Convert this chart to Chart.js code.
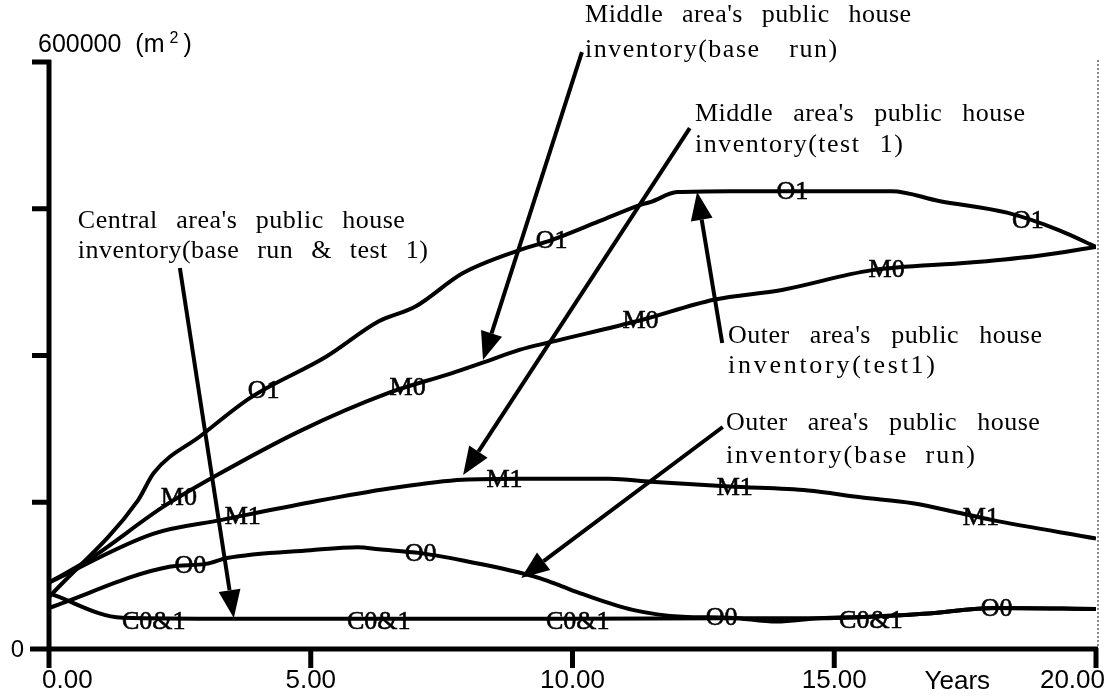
<!DOCTYPE html>
<html>
<head>
<meta charset="utf-8">
<script src="https://cdn.jsdelivr.net/npm/chart.js@4.4.0/dist/chart.umd.min.js"></script>
<style>
    html, body { margin: 0; padding: 0; background: #fff; }
    #wrap { width: 1115px; height: 698px; }
</style>
</head>
<body>
<div id="wrap"><canvas id="chart" width="1115" height="698"></canvas></div>
<script>
    'use strict';

    // outer area, test 1
    var o1Years = [0, 1.7, 2.0, 2.9, 3.85, 5.3, 6.3, 7.0, 7.9, 9.0, 9.6, 10.5, 11.3, 11.5, 12.0, 13.0, 14.0, 15.0, 16.1, 17.0, 18.3, 19.3, 20];
    var o1Values = [53000, 152000, 180000, 218000, 257000, 299000, 335000, 350000, 384000, 408000, 418000, 437000, 454000, 457000, 467000, 468000, 468000, 468000, 468000, 458000, 446000, 428000, 411000];

    // middle area, base run
    var m0Years = [0, 0.75, 2.2, 3.15, 4.8, 6.5, 7.7, 8.3, 9.0, 9.6, 11.3, 12.7, 14.0, 15.7, 17.6, 18.9, 20];
    var m0Values = [68000, 91000, 146000, 176000, 223000, 262000, 282000, 293000, 306000, 314000, 336000, 357000, 367000, 387000, 395000, 402000, 411000];

    // middle area, test 1
    var m1Years = [0, 2.0, 3.3, 5.0, 6.5, 7.9, 9.0, 10.7, 11.5, 13.0, 14.5, 15.5, 16.5, 17.4, 18.0, 20];
    var m1Values = [68000, 118000, 132000, 150000, 164000, 173000, 174000, 174000, 171000, 166000, 162000, 155000, 149000, 139000, 132000, 113000];

    // outer area, base run
    var o0Years = [0, 2.3, 3.0, 3.4, 5.0, 5.9, 6.3, 7.1, 7.95, 9.0, 9.4, 9.8, 10.2, 11.15, 12.1, 13.0, 13.9, 14.7, 15.7, 16.7, 18.1, 20];
    var o0Values = [42000, 84000, 87000, 93000, 101000, 104000, 102000, 98000, 90000, 78000, 72000, 64000, 56000, 40000, 33000, 32000, 28000, 31500, 33000, 36000, 42000, 41000];

    // central area, base run & test 1
    var cYears = [0, 1.4, 3.5, 10.0, 13.0, 14.7, 15.7, 16.7, 18.1, 20];
    var cValues = [57000, 32000, 31000, 31000, 31500, 31500, 33000, 36000, 42000, 41000];

    var xTickValues = [0, 5, 10, 15, 20];
    var xTickLabels = ['0.00', '5.00', '10.00', '15.00', '20.00'];
    var yTickValues = [0, 150000, 300000, 450000, 600000];

    var seriesNames = ['O1', 'M0', 'M1', 'O0', 'C0&1'];
    var seriesYears = [o1Years, m0Years, m1Years, o0Years, cYears];
    var seriesValues = [o1Values, m0Values, m1Values, o0Values, cValues];
    var labelYears = [
        [4.1, 9.6, 14.2, 18.7],
        [2.48, 6.85, 11.3, 16.0],
        [3.7, 8.7, 13.1, 17.8],
        [2.7, 7.1, 12.85, 18.1],
        [2.0, 6.3, 10.1, 15.7]
    ];

    // call-out texts and their arrows, anchored in data units
    var notes = [
        { lines: ["Middle area's public house", "inventory(base  run)"], year: 10.24, value: 640900, widths: [326, 252], ls: [0.5, 1.5], gap: 35 },
        { lines: ["Middle area's public house", "inventory(test  1)"], year: 12.34, value: 539700, widths: [330, 208], ls: [0.5, 1.5], gap: 31 },
        { lines: ["Central area's public house", "inventory(base run & test 1)"], year: 0.55, value: 430300, widths: [327, 350], ls: [0.5, 0.5], gap: 30 },
        { lines: ["Outer area's public house", "inventory(test1)"], year: 12.97, value: 312800, widths: [314, 207], ls: [0.5, 0], gap: 30 },
        { lines: ["Outer area's public house", "inventory(base  run)"], year: 12.93, value: 223800, widths: [314, 249], ls: [0.5, 2], gap: 33 }
    ];
    var arrows = [
        { from: [10.18, 610200], to: [8.29, 295400] },
        { from: [12.24, 532500], to: [7.91, 177800] },
        { from: [2.50, 389400], to: [3.53, 31700] },
        { from: [12.86, 312800], to: [12.38, 467100] },
        { from: [12.87, 226900], to: [9.02, 72600] }
    ];

    var SERIF = '"Liberation Serif", "Times New Roman", serif';
    var SANS = '"Liberation Sans", Arial, sans-serif';

    function pointsOf(years, values) {
        return years.map(function(y, i) {
            return { x: y, y: values[i] };
        });
    }

    function valueAt(years, values, yr) {
        for (var i = 1; i < years.length; i++) {
            if (yr <= years[i]) {
                var t = (yr - years[i - 1]) / (years[i] - years[i - 1]);
                return values[i - 1] + t * (values[i] - values[i - 1]);
            }
        }
        return values[values.length - 1];
    }

    function wordWidth(ctx, word, ls) {
        var w = 0;
        for (var i = 0; i < word.length; i++) {
            w += ctx.measureText(word[i]).width;
        }
        return w + ls * (word.length - 1);
    }

    function drawWord(ctx, word, x, y, ls) {
        for (var i = 0; i < word.length; i++) {
            ctx.fillText(word[i], x, y);
            x += ctx.measureText(word[i]).width + ls;
        }
    }

    // spread a line over a given width: letters get ls, word gaps take the rest
    function drawSpread(ctx, text, x, y, width, ls) {
        var words = text.split(/\s+/);
        if (words.length === 1) {
            var plain = wordWidth(ctx, text, 0);
            drawWord(ctx, text, x, y, (width - plain) / (text.length - 1));
            return;
        }
        var total = 0;
        words.forEach(function(w) { total += wordWidth(ctx, w, ls); });
        var gap = (width - total) / (words.length - 1);
        var cx = x;
        words.forEach(function(w) {
            drawWord(ctx, w, cx, y, ls);
            cx += wordWidth(ctx, w, ls) + gap;
        });
    }

    function drawArrow(ctx, x1, y1, x2, y2) {
        var ang = Math.atan2(y2 - y1, x2 - x1);
        var len = 28, half = 11;
        var bx = x2 - Math.cos(ang) * len, by = y2 - Math.sin(ang) * len;
        ctx.beginPath();
        ctx.moveTo(x1, y1);
        ctx.lineTo(bx, by);
        ctx.lineWidth = 4;
        ctx.stroke();
        ctx.beginPath();
        ctx.moveTo(x2, y2);
        ctx.lineTo(bx - Math.sin(ang) * half, by + Math.cos(ang) * half);
        ctx.lineTo(bx + Math.sin(ang) * half, by - Math.cos(ang) * half);
        ctx.closePath();
        ctx.fill();
    }

    var framePlugin = {
        id: 'frame',
        afterDatasetsDraw: function(chart) {
            var ctx = chart.ctx;
            var sx = chart.scales.x, sy = chart.scales.y;
            var x0 = sx.getPixelForValue(0), xEnd = sx.getPixelForValue(20);
            var y0 = sy.getPixelForValue(0), yTop = sy.getPixelForValue(600000);

            ctx.save();
            ctx.fillStyle = '#000';
            ctx.strokeStyle = '#000';

            // dotted right border
            ctx.save();
            ctx.strokeStyle = '#8a8a8a';
            ctx.lineWidth = 2;
            ctx.setLineDash([2, 2]);
            ctx.beginPath();
            ctx.moveTo(xEnd + 2, yTop - 2);
            ctx.lineTo(xEnd + 2, y0);
            ctx.stroke();
            ctx.restore();

            // axes
            ctx.lineWidth = 5;
            ctx.lineCap = 'butt';
            ctx.beginPath();
            ctx.moveTo(x0, yTop - 2);
            ctx.lineTo(x0, y0 + 2);
            yTickValues.forEach(function(v) {
                var py = sy.getPixelForValue(v);
                ctx.moveTo(x0 - 17, py);
                ctx.lineTo(x0 + 2, py);
            });
            ctx.moveTo(x0 - 19, y0);
            ctx.lineTo(xEnd + 2, y0);
            xTickValues.forEach(function(v) {
                var px = sx.getPixelForValue(v);
                ctx.moveTo(px, y0);
                ctx.lineTo(px, y0 + 19);
            });
            ctx.stroke();

            // tick labels; the two end labels are pulled inside the page
            ctx.font = '26px ' + SANS;
            ctx.textBaseline = 'alphabetic';
            xTickValues.forEach(function(v, i) {
                var px = sx.getPixelForValue(v);
                if (i === 0) {
                    ctx.textAlign = 'left';
                    px -= 7;
                } else if (i === xTickValues.length - 1) {
                    ctx.textAlign = 'right';
                    px += 9;
                } else {
                    ctx.textAlign = 'center';
                }
                ctx.fillText(xTickLabels[i], px, y0 + 39);
            });
            ctx.textAlign = 'center';
            ctx.fillText('Years', sx.getPixelForValue(17.35), y0 + 40);

            ctx.font = '24px ' + SANS;
            ctx.textAlign = 'right';
            ctx.fillText('0', x0 - 25, y0 + 8);

            // unit label above the value axis
            ctx.textAlign = 'left';
            ctx.font = '25px ' + SANS;
            var t = '600000  (m';
            ctx.fillText(t, x0 - 11, yTop - 10);
            var w = ctx.measureText(t).width;
            ctx.font = '16px ' + SANS;
            ctx.fillText('2', x0 - 11 + w + 5, yTop - 19);
            ctx.font = '25px ' + SANS;
            ctx.fillText(')', x0 - 11 + w + 19, yTop - 10);

            // curve labels
            ctx.font = '26px ' + SERIF;
            ctx.textAlign = 'center';
            ctx.textBaseline = 'middle';
            ctx.lineWidth = 0.6;
            seriesNames.forEach(function(name, s) {
                labelYears[s].forEach(function(yr) {
                    var v = valueAt(seriesYears[s], seriesValues[s], yr);
                    var dy = name === 'C0&1' ? 4 : 1;
                    var px = sx.getPixelForValue(yr), py = sy.getPixelForValue(v) + dy;
                    ctx.fillText(name, px, py);
                    ctx.strokeText(name, px, py);
                });
            });

            // call-outs
            ctx.textAlign = 'left';
            ctx.textBaseline = 'alphabetic';
            ctx.font = '26px ' + SERIF;
            notes.forEach(function(n) {
                var px = sx.getPixelForValue(n.year), py = sy.getPixelForValue(n.value);
                n.lines.forEach(function(line, i) {
                    drawSpread(ctx, line, px, py + i * n.gap, n.widths[i], n.ls[i]);
                });
            });
            arrows.forEach(function(a) {
                drawArrow(ctx,
                    sx.getPixelForValue(a.from[0]), sy.getPixelForValue(a.from[1]),
                    sx.getPixelForValue(a.to[0]), sy.getPixelForValue(a.to[1]));
            });
            ctx.restore();
        }
    };

    var datasets = seriesNames.map(function(name, s) {
        return {
            label: name,
            data: pointsOf(seriesYears[s], seriesValues[s]),
            borderColor: '#000',
            borderWidth: 4,
            pointRadius: 0,
            showLine: true,
            cubicInterpolationMode: 'monotone',
            fill: false
        };
    });

    new Chart(document.getElementById('chart'), {
        type: 'scatter',
        data: { datasets: datasets },
        options: {
            responsive: false,
            animation: false,
            devicePixelRatio: 1,
            layout: { padding: { left: 49, right: 19, top: 62, bottom: 49 } },
            plugins: { legend: { display: false }, tooltip: { enabled: false } },
            scales: {
                x: { type: 'linear', min: 0, max: 20, display: false },
                y: { min: 0, max: 600000, display: false }
            }
        },
        plugins: [framePlugin]
    });
</script>
</body>
</html>
